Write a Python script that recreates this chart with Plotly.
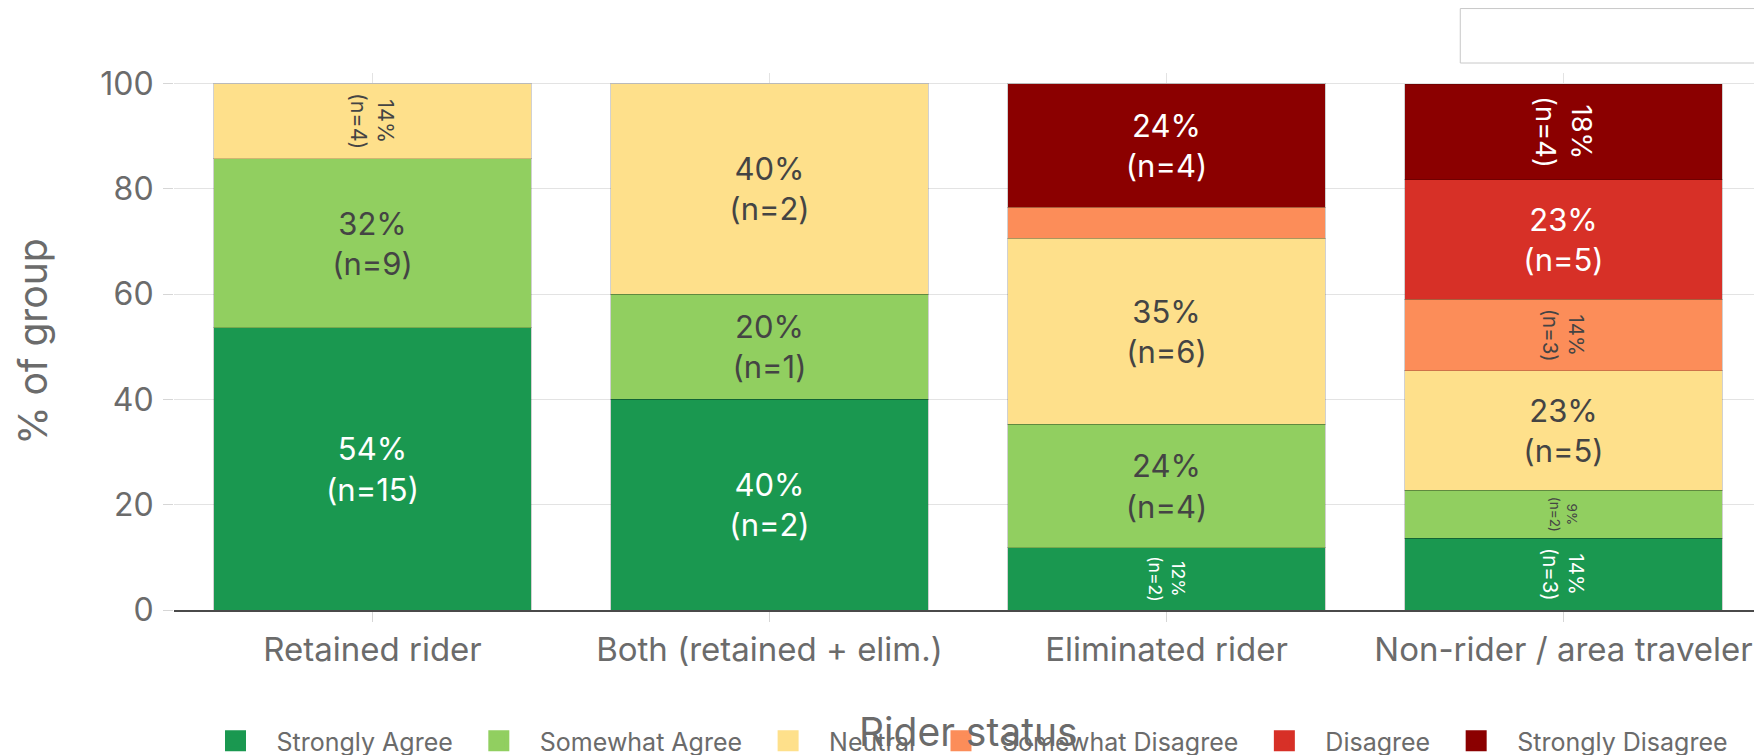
import plotly.graph_objects as go

# ---------------- data ----------------
groups = ["Retained rider", "Both (retained + elim.)", "Eliminated rider", "Non-rider / area traveler"]
responses = ["Strongly Agree", "Somewhat Agree", "Neutral", "Somewhat Disagree", "Disagree", "Strongly Disagree"]

strongly_agree_pct = [53.6, 40.0, 11.8, 13.6]
somewhat_agree_pct = [32.1, 20.0, 23.5, 9.1]
neutral_pct = [14.3, 40.0, 35.3, 22.7]
somewhat_disagree_pct = [0.0, 0.0, 5.9, 13.6]
disagree_pct = [0.0, 0.0, 0.0, 22.7]
strongly_disagree_pct = [0.0, 0.0, 23.5, 18.2]

strongly_agree_n = [15, 2, 2, 3]
somewhat_agree_n = [9, 1, 4, 2]
neutral_n = [4, 2, 6, 5]
somewhat_disagree_n = [0, 0, 1, 3]
disagree_n = [0, 0, 0, 5]
strongly_disagree_n = [0, 0, 4, 4]

y_ticks = [0, 20, 40, 60, 80, 100]
x_title = "Rider status"
y_title = "% of group"

# ---------------- style ----------------
FONT = "Inter"
colors = ["#1a9850", "#91cf60", "#fee08b", "#fc8d59", "#d73027", "#8b0000"]
TEXT_SIZE = 31
ROTATE_BELOW = 20      # segments smaller than this get vertical labels
LABEL_MIN = 8          # segments smaller than this get no label
GREY = "#6b6b6b"

series_pct = [strongly_agree_pct, somewhat_agree_pct, neutral_pct,
              somewhat_disagree_pct, disagree_pct, strongly_disagree_pct]
series_n = [strongly_agree_n, somewhat_agree_n, neutral_n,
            somewhat_disagree_n, disagree_n, strongly_disagree_n]

fig = go.Figure()

for name, pcts, ns, color in zip(responses, series_pct, series_n, colors):
    for rotated in (False, True):
        ys, texts, sizes = [], [], []
        for p, n in zip(pcts, ns):
            use = p > 0 and ((p < ROTATE_BELOW) == rotated)
            ys.append(p if use else None)
            texts.append(f"{p:.0f}%<br>(n={n})" if (use and p >= LABEL_MIN) else "")
            sizes.append(max(round(1.5 * p, 1), 6) if rotated else TEXT_SIZE)
        fig.add_trace(go.Bar(
            x=groups, y=ys, name=name, legendgroup=name, showlegend=False,
            text=texts, textposition="inside", insidetextanchor="middle",
            textangle=90 if rotated else 0,
            textfont=dict(family=FONT, size=sizes),
            marker=dict(color=color, line=dict(color="rgba(0,0,0,0.18)", width=1)),
            hovertemplate=name + ": %{y:.1f}%<extra>%{x}</extra>",
        ))

# legend proxies (bigger square swatches)
for name, color in zip(responses, colors):
    fig.add_trace(go.Scatter(
        x=[None], y=[None], mode="markers", name=name, legendgroup=name,
        marker=dict(symbol="square", size=16, color=color, line=dict(color=color, width=5)),
        showlegend=True, hoverinfo="skip",
    ))

fig.update_layout(
    width=1754, height=747,
    margin=dict(l=166, r=0, t=65, b=145),
    paper_bgcolor="white", plot_bgcolor="white",
    font=dict(family=FONT, color=GREY),
    barmode="stack", bargap=0.2,
    legend=dict(
        orientation="h", x=0.4975, xanchor="center", xref="paper",
        y=0.0187, yanchor="middle", yref="container",
        font=dict(size=25, color=GREY), itemwidth=72,
        traceorder="normal",
    ),
    xaxis=dict(
        type="category", showgrid=True, gridcolor="#e3e3e3",
        ticks="outside", ticklen=10, tickcolor="#d6d6d6",
        tickfont=dict(size=33, color=GREY),
        showline=True, linecolor="#4a4a4a", linewidth=1.5,
        automargin=False,
    ),
    yaxis=dict(
        range=[0, 102], tickvals=y_ticks,
        showgrid=True, gridcolor="#e3e3e3", zeroline=False,
        ticks="outside", ticklen=10, tickcolor="#d6d6d6",
        tickfont=dict(size=32, color=GREY), ticklabelstandoff=3,
        title=dict(text=y_title, font=dict(size=39, color=GREY), standoff=40),
        automargin=False,
    ),
)

# x-axis title (placed low so it sits where the reference has it)
fig.add_annotation(text=x_title, xref="paper", yref="paper", x=0.5, y=-0.2254,
                   xanchor="center", yanchor="middle", showarrow=False,
                   font=dict(family=FONT, size=39, color=GREY))

fig.add_shape(type="rect", xref="paper", yref="paper",
              x0=0.81, x1=1.05, y0=1.0186, y1=1.12,
              line=dict(color="#c8c8c8", width=1), fillcolor="white", layer="above")

fig.write_html("out.html", config={"displayModeBar": False})
